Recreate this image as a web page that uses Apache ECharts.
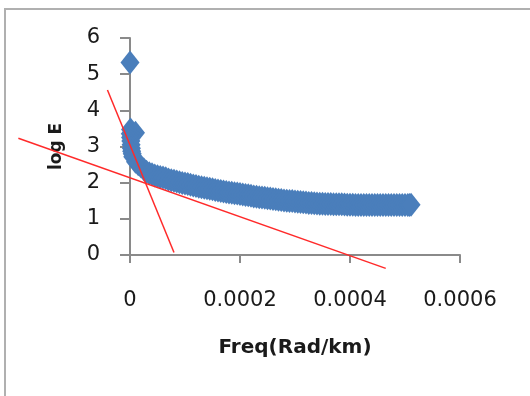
<!DOCTYPE html>
<html>
<head>
<meta charset="utf-8">
<script src="https://cdn.jsdelivr.net/npm/echarts@6/dist/echarts.min.js"></script>
<style>
html,body{margin:0;padding:0;background:#fff;}
#c{width:530px;height:396px;}
</style>
</head>
<body>
<div id="c"></div>
<script>
// Scatter data: frequency (rad/km) and log E
var freq = [
  0, 0.01e-4, 0.10e-4,
  0.005e-4, 0.01e-4, 0.015e-4, 0.02e-4, 0.025e-4, 0.03e-4, 0.04e-4,
  0.05e-4, 0.10e-4, 0.15e-4, 0.20e-4, 0.25e-4, 0.30e-4, 0.35e-4, 0.40e-4, 0.45e-4, 0.50e-4,
  0.55e-4, 0.60e-4, 0.65e-4, 0.70e-4, 0.75e-4, 0.80e-4, 0.85e-4, 0.90e-4, 0.95e-4, 1.00e-4,
  1.05e-4, 1.10e-4, 1.15e-4, 1.20e-4, 1.25e-4, 1.30e-4, 1.35e-4, 1.40e-4, 1.45e-4, 1.50e-4,
  1.55e-4, 1.60e-4, 1.65e-4, 1.70e-4, 1.75e-4, 1.80e-4, 1.85e-4, 1.90e-4, 1.95e-4, 2.00e-4,
  2.05e-4, 2.10e-4, 2.15e-4, 2.20e-4, 2.25e-4, 2.30e-4, 2.35e-4, 2.40e-4, 2.45e-4, 2.50e-4,
  2.55e-4, 2.60e-4, 2.65e-4, 2.70e-4, 2.75e-4, 2.80e-4, 2.85e-4, 2.90e-4, 2.95e-4, 3.00e-4,
  3.05e-4, 3.10e-4, 3.15e-4, 3.20e-4, 3.25e-4, 3.30e-4, 3.35e-4, 3.40e-4, 3.45e-4, 3.50e-4,
  3.55e-4, 3.60e-4, 3.65e-4, 3.70e-4, 3.75e-4, 3.80e-4, 3.85e-4, 3.90e-4, 3.95e-4, 4.00e-4,
  4.05e-4, 4.10e-4, 4.15e-4, 4.20e-4, 4.25e-4, 4.30e-4, 4.35e-4, 4.40e-4, 4.45e-4, 4.50e-4,
  4.55e-4, 4.60e-4, 4.65e-4, 4.70e-4, 4.75e-4, 4.80e-4, 4.85e-4, 4.90e-4, 4.95e-4, 5.00e-4,
  5.05e-4, 5.08e-4, 5.11e-4
];
var logE = [
  5.32, 3.47, 3.38,
  3.35, 3.25, 3.15, 3.05, 2.95, 2.87, 2.80,
  2.72, 2.58, 2.51, 2.45, 2.37, 2.30, 2.26, 2.23, 2.20, 2.18,
  2.16, 2.14, 2.12, 2.09, 2.07, 2.05, 2.03, 2.01, 1.99, 1.975,
  1.96, 1.94, 1.92, 1.905, 1.89, 1.875, 1.86, 1.845, 1.83, 1.815,
  1.80, 1.785, 1.77, 1.755, 1.74, 1.73, 1.72, 1.71, 1.70, 1.685,
  1.67, 1.66, 1.65, 1.635, 1.62, 1.61, 1.60, 1.59, 1.58, 1.57,
  1.56, 1.55, 1.54, 1.53, 1.52, 1.51, 1.50, 1.495, 1.49, 1.48,
  1.47, 1.465, 1.46, 1.45, 1.44, 1.435, 1.43, 1.425, 1.42, 1.415,
  1.41, 1.41, 1.41, 1.405, 1.40, 1.40, 1.40, 1.395, 1.39, 1.39,
  1.39, 1.385, 1.385, 1.38, 1.38, 1.38, 1.38, 1.38, 1.38, 1.38,
  1.38, 1.38, 1.38, 1.38, 1.38, 1.38, 1.38, 1.38, 1.38, 1.38,
  1.38, 1.385, 1.39
];
// Two straight red fit lines: [x1, y1, x2, y2]
var steepLine = [-0.41e-4, 4.56, 0.80e-4, 0.07];
var shallowLine = [-2.03e-4, 3.23, 4.65e-4, -0.37];
// Axis ticks
var xTickLabels = ['0', '0.0002', '0.0004', '0.0006'];
var yTickLabels = ['0', '1', '2', '3', '4', '5', '6'];

function pairs(xs, ys) {
  var out = [];
  for (var i = 0; i < xs.length; i++) out.push([xs[i], ys[i]]);
  return out;
}

var chart = echarts.init(document.getElementById('c'), null, {renderer: 'canvas'});
var axisColor = '#8a8a8a';
var textColor = '#1a1a1a';
var font = 'DejaVu Sans';

chart.setOption({
  animation: false,
  backgroundColor: '#ffffff',
  graphic: [{
    type: 'rect',
    shape: {x: 5, y: 9, width: 700, height: 600},
    style: {fill: 'none', stroke: '#b0b0b0', lineWidth: 2},
    silent: true,
    z: -10
  }],
  grid: {left: 130, right: 70, top: 38, bottom: 141, containLabel: false},
  xAxis: {
    type: 'value',
    min: 0, max: 0.0006, interval: 0.0002,
    name: 'Freq(Rad/km)',
    nameLocation: 'middle',
    nameGap: 83,
    nameTextStyle: {fontFamily: font, fontWeight: 'bold', fontSize: 20, color: textColor},
    axisLine: {show: true, onZero: false, lineStyle: {color: axisColor, width: 2}},
    axisTick: {show: true, inside: false, length: 8, lineStyle: {color: axisColor, width: 2}},
    axisLabel: {
      margin: 35, fontFamily: font, fontSize: 21, color: textColor,
      formatter: function (v, i) { return xTickLabels[i] !== undefined ? xTickLabels[i] : ''; }
    },
    splitLine: {show: false}
  },
  yAxis: {
    type: 'value',
    min: 0, max: 6, interval: 1,
    name: 'log E',
    nameLocation: 'middle',
    nameRotate: 90,
    nameGap: 65,
    nameTextStyle: {fontFamily: font, fontWeight: 'bold', fontSize: 17, color: textColor},
    axisLine: {show: true, onZero: false, lineStyle: {color: axisColor, width: 2}},
    axisTick: {show: true, inside: false, length: 10, lineStyle: {color: axisColor, width: 2}},
    axisLabel: {
      margin: 30, fontFamily: font, fontSize: 21, color: textColor,
      formatter: function (v, i) { return yTickLabels[i] !== undefined ? yTickLabels[i] : ''; }
    },
    splitLine: {show: false}
  },
  series: [
    {
      type: 'scatter',
      data: pairs(freq, logE),
      symbol: 'diamond',
      symbolSize: [19, 24],
      itemStyle: {color: '#4a7ebb', opacity: 1},
      z: 2
    },
    {
      type: 'custom',
      clip: false,
      z: 3,
      encode: {x: [0, 2], y: [1, 3]},
      data: [steepLine, shallowLine],
      renderItem: function (params, api) {
        var p1 = api.coord([api.value(0), api.value(1)]);
        var p2 = api.coord([api.value(2), api.value(3)]);
        return {
          type: 'line',
          shape: {x1: p1[0], y1: p1[1], x2: p2[0], y2: p2[1]},
          style: {stroke: '#ff2a2a', lineWidth: 1.5}
        };
      }
    }
  ]
});
</script>
</body>
</html>
